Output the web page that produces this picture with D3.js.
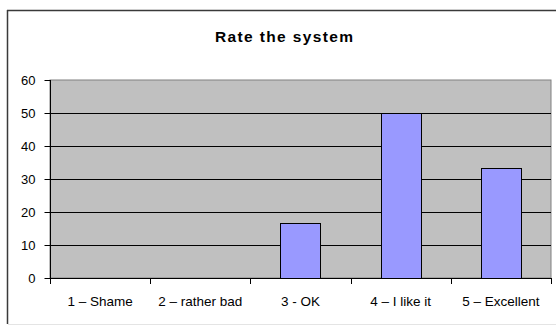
<!DOCTYPE html>
<html>
<head>
<meta charset="utf-8">
<script src="https://cdn.jsdelivr.net/npm/d3@7"></script>
<style>
  html, body { margin: 0; padding: 0; background: #fff; }
  svg { display: block; }
  text { font-family: "Liberation Sans", Arial, sans-serif; fill: #000; }
</style>
</head>
<body>
<svg id="chart" width="556" height="325"></svg>
<script>
// Survey result: share of answers per rating (percent)
const categories = ["1 \u2013 Shame", "2 \u2013 rather bad", "3 - OK", "4 \u2013 I like it", "5 \u2013 Excellent"];
const values = [0, 0, 16.67, 50, 33.33];
const yTicks = [0, 10, 20, 30, 40, 50, 60];
const title = "Rate the system";

const svg = d3.select("#chart");
const W = 556, H = 325;
const plot = { left: 50, right: 551, top: 80, bottom: 278 };

// Chart frame (extends past the right edge of the window)
svg.append("line").attr("x1", 7.5).attr("x2", 7.5).attr("y1", 10).attr("y2", 324)
  .attr("stroke", "#3a3a3a").attr("stroke-width", 1.5);
svg.append("line").attr("x1", 7).attr("x2", W).attr("y1", 10.5).attr("y2", 10.5)
  .attr("stroke", "#3a3a3a").attr("stroke-width", 1.5);
svg.append("line").attr("x1", 8).attr("x2", W).attr("y1", 324.5).attr("y2", 324.5)
  .attr("stroke", "#e4e4e4").attr("stroke-width", 1);

// Title
svg.append("text")
  .attr("x", 284).attr("y", 42)
  .attr("text-anchor", "middle")
  .attr("font-size", 15.5).attr("font-weight", "bold")
  .attr("textLength", 138).attr("lengthAdjust", "spacing")
  .text(title);

const x = d3.scaleBand().domain(categories).range([plot.left, plot.right]).paddingInner(0).paddingOuter(0);
const y = d3.scaleLinear().domain([0, 60]).range([plot.bottom, plot.top]);

// Plot area
svg.append("rect")
  .attr("x", plot.left).attr("y", plot.top)
  .attr("width", plot.right - plot.left).attr("height", plot.bottom - plot.top)
  .attr("fill", "#c0c0c0").attr("stroke", "#808080").attr("stroke-width", 1);

// Gridlines
svg.append("g").selectAll("line")
  .data(yTicks.filter(d => d > 0 && d < 60))
  .join("line")
  .attr("x1", plot.left).attr("x2", plot.right)
  .attr("y1", d => Math.round(y(d)) + 0.5).attr("y2", d => Math.round(y(d)) + 0.5)
  .attr("stroke", "#000").attr("stroke-width", 1);

// Bars: gap width 150% of the bar width
const barW = x.bandwidth() / 2.5;
svg.append("g").selectAll("rect")
  .data(values.map((v, i) => ({ c: categories[i], v })).filter(d => d.v > 0))
  .join("rect")
  .attr("x", d => Math.round(x(d.c) + (x.bandwidth() - barW) / 2) + 0.5)
  .attr("y", d => Math.round(y(d.v)) + 0.5)
  .attr("width", Math.round(barW))
  .attr("height", d => plot.bottom - Math.round(y(d.v)))
  .attr("fill", "#9999ff").attr("stroke", "#000").attr("stroke-width", 1);

// Y axis
const yAxis = svg.append("g")
  .attr("transform", `translate(${plot.left + 0.5},0)`)
  .call(d3.axisLeft(y).tickValues(yTicks).tickSize(6).tickPadding(9).tickFormat(d3.format("d")));
yAxis.select(".domain").attr("stroke", "#000").attr("d", `M0,${plot.top}V${plot.bottom + 0.5}`);
yAxis.selectAll(".tick line").attr("stroke", "#000");
yAxis.selectAll(".tick text")
  .attr("font-size", 13).attr("font-family", "Liberation Sans, Arial, sans-serif").attr("fill", "#000");

// X axis
const xAxis = svg.append("g")
  .attr("transform", `translate(0,${plot.bottom + 0.5})`)
  .call(d3.axisBottom(x).tickSize(0).tickPadding(18));
xAxis.select(".domain").attr("stroke", "#000").attr("d", `M${plot.left},0H${plot.right}`);
xAxis.selectAll(".tick text")
  .attr("font-size", 13.5).attr("font-family", "Liberation Sans, Arial, sans-serif").attr("fill", "#000");

// Category boundary ticks
const bounds = categories.map(c => x(c)).concat([plot.right]);
svg.append("g").selectAll("line")
  .data(bounds)
  .join("line")
  .attr("x1", d => Math.round(d) + 0.5).attr("x2", d => Math.round(d) + 0.5)
  .attr("y1", plot.bottom).attr("y2", plot.bottom + 6)
  .attr("stroke", "#000");
</script>
</body>
</html>
